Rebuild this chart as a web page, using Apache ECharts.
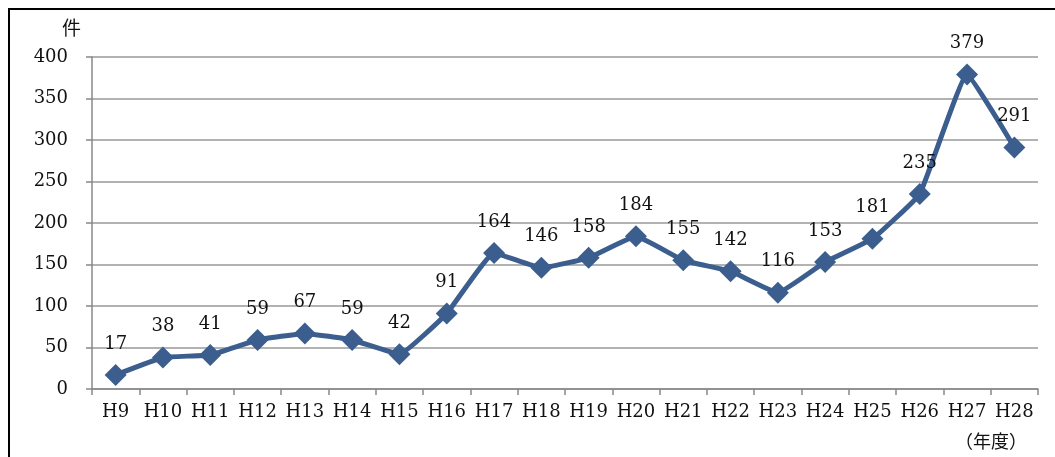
<!DOCTYPE html>
<html>
<head>
<meta charset="utf-8">
<script src="https://cdn.jsdelivr.net/npm/echarts@6/dist/echarts.min.js"></script>
<style>
  html, body { margin: 0; padding: 0; background: #fff; }
  #chart { width: 1055px; height: 457px; }
</style>
</head>
<body>
<div id="chart"></div>
<script>
var years = ['H9', 'H10', 'H11', 'H12', 'H13', 'H14', 'H15', 'H16', 'H17', 'H18',
             'H19', 'H20', 'H21', 'H22', 'H23', 'H24', 'H25', 'H26', 'H27', 'H28'];
var counts = [17, 38, 41, 59, 67, 59, 42, 91, 164, 146,
              158, 184, 155, 142, 116, 153, 181, 235, 379, 291];

var serif = '"DejaVu Serif", "Noto Sans CJK JP", serif';
var lineColor = '#3B5E8E';

var myChart = echarts.init(document.getElementById('chart'));

var option = {
    animation: false,
    grid: { left: 92, right: 17, top: 57, bottom: 68, containLabel: false },
    graphic: [
        {
            type: 'rect',
            shape: { x: 9, y: 9, width: 1080, height: 480 },
            style: { fill: 'none', stroke: '#000', lineWidth: 2 }
        },
        {
            type: 'text', left: 62, top: 21,
            style: { text: '件', font: '19px ' + serif, fill: '#111' }
        },
        {
            type: 'text', left: 955, top: 434,
            style: { text: '（年度）', font: '18px ' + serif, fill: '#111' }
        }
    ],
    xAxis: {
        type: 'category',
        data: years,
        boundaryGap: true,
        axisLine: { lineStyle: { color: '#888', width: 1.5 } },
        axisTick: { show: true, length: 6, alignWithLabel: false, lineStyle: { color: '#888', width: 1.5 } },
        axisLabel: { color: '#111', fontFamily: serif, fontSize: 18, margin: 14, interval: 0 }
    },
    yAxis: {
        type: 'value',
        min: 0, max: 400, interval: 50,
        axisLine: { show: true, lineStyle: { color: '#888', width: 1.5 } },
        axisTick: { show: true, length: 6, lineStyle: { color: '#888', width: 1.5 } },
        axisLabel: { color: '#111', fontFamily: serif, fontSize: 18, margin: 24 },
        splitLine: { lineStyle: { color: '#999', width: 1.5 } }
    },
    series: [
        {
            type: 'line',
            data: counts,
            smooth: 0.1,
            symbol: 'diamond',
            symbolSize: 22,
            itemStyle: { color: lineColor },
            lineStyle: { color: lineColor, width: 5 },
            label: {
                show: true,
                position: 'top',
                distance: 11,
                color: '#111',
                fontFamily: serif,
                fontSize: 18
            }
        }
    ]
};
myChart.setOption(option);
</script>
</body>
</html>
